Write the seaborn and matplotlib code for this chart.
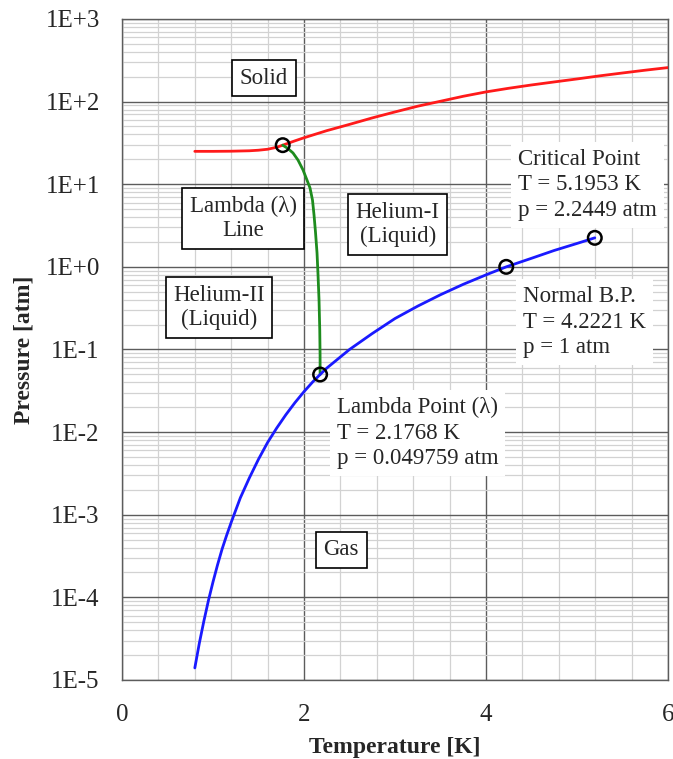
import numpy as np
import pandas as pd
import matplotlib
matplotlib.use("Agg")
import matplotlib.pyplot as plt
from matplotlib.ticker import FixedLocator, FuncFormatter, LogLocator, MultipleLocator
import seaborn as sns

# Helium-4 phase boundaries (temperature in K, pressure in atm)
melt_T = [0.8, 1.0, 1.2, 1.4, 1.5, 1.6, 1.7, 1.7659, 1.9, 2.0, 2.25, 2.5, 2.75, 3.0, 3.25,
          3.5, 3.75, 4.0, 4.25, 4.5, 4.75, 5.0, 5.25, 5.5, 5.75, 6.0]
melt_p = [25.0, 25.0, 25.1, 25.4, 25.8, 26.5, 28.0, 29.7, 33.5, 36.5, 44.5, 53.0, 63.5, 75.0, 88.0,
          101.0, 116.0, 131.0, 145.0, 159.0, 173.0, 188.0, 205.0, 222.0, 240.0, 258.0]

lambda_T = [1.7659, 1.824, 1.879, 1.934, 1.989, 2.033, 2.066, 2.093, 2.110, 2.126, 2.143,
            2.154, 2.165, 2.173, 2.1765, 2.1768]
lambda_p = [29.7, 27.0, 23.9, 19.6, 14.9, 11.2, 9.0, 6.44, 4.24, 2.64, 1.47,
            0.796, 0.396, 0.172, 0.0855, 0.049759]

vap_T = [0.8, 0.85, 0.9, 0.95, 1.0, 1.05, 1.1, 1.15, 1.2, 1.3, 1.4, 1.5, 1.6, 1.7, 1.8, 1.9,
         2.0, 2.1, 2.1768, 2.25, 2.5, 2.75, 3.0, 3.25, 3.5, 3.75, 4.0, 4.2221, 4.5, 4.75,
         5.0, 5.1953]
vap_p = [1.4e-5, 2.8e-5, 5.2e-5, 9.2e-5, 1.54e-4, 2.48e-4, 3.85e-4, 5.65e-4, 8.1e-4, 1.6e-3,
         2.8e-3, 4.7e-3, 7.5e-3, 1.12e-2, 1.62e-2, 2.27e-2, 3.09e-2, 4.1e-2, 0.049759, 0.0595,
         0.1, 0.156, 0.237, 0.335, 0.46, 0.615, 0.80, 1.0, 1.27, 1.58, 1.92, 2.2449]

# Marked points: upper lambda point, lambda point, normal boiling point, critical point
pts_T = [1.7659, 2.1768, 4.2221, 5.1953]
pts_p = [29.7, 0.049759, 1.0, 2.2449]

# Region labels
region_names = ["Solid", "Lambda (\u03bb)\nLine", "Helium-II\n(Liquid)", "Helium-I\n(Liquid)", "Gas"]
region_T = [1.56, 1.33, 1.066, 3.03, 2.41]
region_p = [193.0, 3.85, 0.321, 3.25, 3.78e-4]

# Point annotations
note_texts = ["Critical Point\nT = 5.1953 K\np = 2.2449 atm",
              "Normal B.P.\nT = 4.2221 K\np = 1 atm",
              "Lambda Point (\u03bb)\nT = 2.1768 K\np = 0.049759 atm"]
note_T = [4.35, 4.41, 2.36]
note_p = [9.8, 0.215, 0.0097]

x_ticks = [0, 2, 4, 6]
y_exps = [-5, -4, -3, -2, -1, 0, 1, 2, 3]

sns.set_style("white")
plt.rcParams["font.family"] = ["Liberation Serif", "DejaVu Serif"]

fig = plt.figure(figsize=(6.73, 7.59), dpi=100)
ax = fig.add_axes([0.1813, 0.1041, 0.8113, 0.8709])

melt = pd.DataFrame({"T": melt_T, "p": melt_p})
lam = pd.DataFrame({"T": lambda_T, "p": lambda_p})
vap = pd.DataFrame({"T": vap_T, "p": vap_p})
pts = pd.DataFrame({"T": pts_T, "p": pts_p})

ax.set_yscale("log")
sns.lineplot(data=melt, x="T", y="p", ax=ax, color="#ff1a1a", lw=2.0, sort=False, zorder=4)
sns.lineplot(data=lam, x="T", y="p", ax=ax, color="#1e8c1e", lw=2.0, sort=False, zorder=4)
sns.lineplot(data=vap, x="T", y="p", ax=ax, color="#1a1aff", lw=2.0, sort=False, zorder=4)
sns.scatterplot(data=pts, x="T", y="p", ax=ax, s=95, facecolor="none",
                edgecolor="black", linewidth=1.8, zorder=5)

ax.set_xlim(0, 6)
ax.set_ylim(1e-5, 1e3)

ax.xaxis.set_major_locator(FixedLocator(x_ticks))
ax.xaxis.set_minor_locator(MultipleLocator(0.4))
ax.yaxis.set_major_locator(FixedLocator([10.0 ** e for e in y_exps]))
ax.yaxis.set_minor_locator(LogLocator(base=10, subs=np.arange(2, 10)))
ax.yaxis.set_major_formatter(FuncFormatter(lambda v, _: "1E{:+d}".format(int(round(np.log10(v))))))
ax.xaxis.set_major_formatter(FuncFormatter(lambda v, _: "{:d}".format(int(round(v)))))
ax.yaxis.set_minor_formatter(FuncFormatter(lambda v, _: ""))

ax.grid(which="minor", color="#d2d2d2", lw=0.9, zorder=0)
ax.grid(which="major", color="#5c5c5c", lw=1.0, zorder=1)
ax.set_axisbelow(True)
for s in ax.spines.values():
    s.set_color("#5c5c5c")
    s.set_linewidth(1.0)

ax.tick_params(which="both", length=0)
ax.tick_params(axis="y", labelsize=18, pad=16)
ax.tick_params(axis="x", labelsize=18, pad=17)

ax.set_xlabel("Temperature [K]", fontsize=17, fontweight="bold", labelpad=8)
ax.set_ylabel("Pressure [atm]", fontsize=17, fontweight="bold", labelpad=8)

for name, t, p in zip(region_names, region_T, region_p):
    ax.text(t, p, name, fontsize=16.5, ha="center", va="center", linespacing=1.2, zorder=6,
            bbox=dict(boxstyle="square,pad=0.33", facecolor="white", edgecolor="black", lw=1.2))

for txt, t, p in zip(note_texts, note_T, note_p):
    ax.text(t, p, txt, fontsize=16.5, ha="left", va="center", linespacing=1.28, zorder=3,
            bbox=dict(boxstyle="square,pad=0.3", facecolor="white", edgecolor="none"))

fig.savefig("out.png", dpi=100)
